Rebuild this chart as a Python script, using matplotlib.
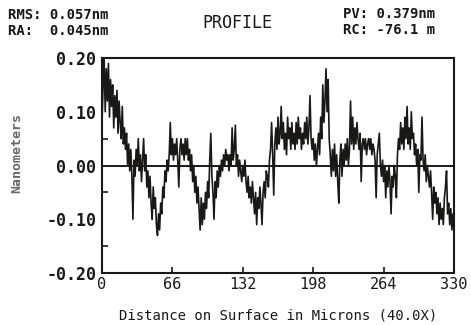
import numpy as np
import matplotlib as mpl
mpl.use('Agg')
import matplotlib.pyplot as plt
from matplotlib.ticker import FixedLocator

# profile height (nm) read every 1 micron, 0..330
step_um = 1
height_nm = [
    0.08, 0.15, 0.20, 0.10, 0.18, 0.12, 0.19, 0.09, 0.16, 0.11,
    0.15, 0.07, 0.13, 0.09, 0.14, 0.06, 0.12, 0.08, 0.05, 0.11,
    0.04, 0.07, 0.03, 0.06, 0.00, 0.04, -0.01, 0.03, -0.02, -0.10,
    0.01, -0.02, 0.03, 0.00, 0.05, -0.01, 0.02, -0.03, 0.01, 0.05,
    -0.01, 0.02, -0.04, -0.01, -0.06, -0.02, -0.07, -0.10, -0.04, -0.08,
    -0.06, -0.11, -0.13, -0.09, -0.12, -0.07, -0.09, -0.04, -0.06, -0.01,
    -0.03, 0.01, -0.01, 0.02, 0.08, 0.02, 0.05, 0.01, 0.04, 0.02,
    0.05, 0.01, -0.04, 0.03, 0.05, 0.02, 0.04, 0.01, 0.05, 0.02,
    0.05, 0.01, 0.03, -0.01, 0.02, -0.03, 0.00, -0.05, -0.02, -0.07,
    -0.04, -0.08, -0.12, -0.06, -0.11, -0.07, -0.10, -0.05, -0.08, -0.03,
    -0.06, 0.01, 0.06, -0.02, -0.05, -0.10, -0.03, -0.06, -0.01, -0.04,
    0.00, -0.02, 0.01, -0.01, 0.02, 0.00, 0.03, 0.01, 0.02, -0.01,
    0.02, 0.00, 0.07, 0.01, 0.03, 0.075, 0.00, 0.02, -0.02, 0.01,
    -0.01, -0.03, 0.00, -0.02, 0.01, -0.03, -0.05, -0.02, -0.06, -0.04,
    -0.07, -0.03, -0.06, -0.09, -0.05, -0.11, -0.06, -0.08, -0.04, -0.07,
    -0.11, -0.05, -0.03, -0.06, -0.01, -0.02, -0.04, 0.01, 0.03, 0.08,
    0.02, -0.055, 0.04, 0.07, 0.03, 0.09, 0.04, 0.06, 0.11, 0.05,
    0.08, 0.03, 0.06, 0.02, 0.09, 0.05, 0.07, 0.03, 0.08, 0.04,
    0.06, 0.03, 0.08, 0.04, 0.09, 0.05, 0.07, 0.03, 0.06, 0.04,
    0.08, 0.05, 0.09, 0.04, 0.07, 0.13, 0.05, 0.03, 0.05, 0.01,
    0.04, 0.00, 0.03, 0.06, 0.02, 0.09, 0.05, 0.15, 0.08, 0.12,
    0.18, 0.10, 0.16, 0.05, 0.02, -0.02, 0.03, -0.01, 0.04, -0.02,
    0.02, -0.03, -0.07, 0.01, 0.04, -0.02, 0.03, 0.00, 0.04, 0.01,
    0.05, 0.00, 0.03, 0.12, 0.04, 0.09, 0.03, 0.07, 0.04, 0.08,
    0.05, 0.03, 0.06, -0.03, 0.04, 0.05, 0.03, 0.05, 0.02, 0.04,
    0.05, 0.03, 0.05, 0.02, 0.04, 0.03, 0.01, -0.06, 0.02, 0.04,
    0.06, 0.00, -0.02, 0.01, -0.03, 0.00, -0.06, -0.01, -0.04, 0.00,
    -0.03, -0.09, -0.02, -0.04, 0.00, -0.02, -0.06, 0.02, 0.05, 0.03,
    0.08, 0.04, 0.07, 0.03, 0.09, 0.05, 0.11, 0.04, 0.07, 0.03,
    0.10, 0.05, 0.06, 0.02, 0.04, 0.00, 0.03, -0.05, 0.02, 0.01,
    0.09, 0.01, -0.01, 0.02, -0.03, 0.00, -0.02, -0.04, -0.01, -0.05,
    -0.10, -0.04, -0.07, -0.05, -0.09, -0.06, -0.11, -0.07, -0.10, -0.08,
    -0.11, -0.06, -0.04, -0.01, -0.09, -0.07, -0.11, -0.08, -0.12, -0.09,
    -0.12,
]
dist_um = np.arange(len(height_nm)) * step_um

x_ticks = [0, 66, 132, 198, 264, 330]
x_labels = ['0', '66', '132', '198', '264', '330']
y_ticks = [-0.20, -0.10, 0.00, 0.10, 0.20]
y_labels = ['-0.20', '-0.10', '0.00', '0.10', '0.20']

ink = '#1a1717'
mono = 'DejaVu Sans Mono'

fig = plt.figure(figsize=(4.71, 3.25), dpi=100)
ax = fig.add_axes([0.2166, 0.16, 0.7473, 0.6615])

ax.plot(dist_um, height_nm, color=ink, lw=1.2)
ax.axhline(0, color=ink, lw=1.4)

ax.set_xlim(0, 330)
ax.set_ylim(-0.2, 0.2)
ax.xaxis.set_major_locator(FixedLocator(x_ticks))
ax.set_xticklabels(x_labels, family=mono, fontsize=11)
ax.yaxis.set_major_locator(FixedLocator(y_ticks))
ax.set_yticklabels(y_labels, family=mono, fontsize=12, fontweight='bold')
ax.yaxis.set_minor_locator(FixedLocator([-0.15, -0.05, 0.05, 0.15]))
ax.tick_params(axis='y', which='major', length=0, pad=4, colors=ink)
ax.tick_params(axis='y', which='minor', direction='in', length=4, width=1.2, color=ink)
ax.tick_params(axis='x', which='major', direction='in', length=4, width=1.2, pad=3,
               colors=ink)
for s in ax.spines.values():
    s.set_linewidth(1.5)
    s.set_color(ink)

ax.set_ylabel('Nanometers', family=mono, fontsize=9.5, fontweight='bold',
              color='#666666')
ax.yaxis.set_label_coords(-0.225, 0.56)
ax.set_xlabel('Distance on Surface in Microns (40.0X)', family=mono, fontsize=10,
              color=ink, labelpad=12)

fig.text(0.017, 0.955, 'RMS: 0.057nm', family=mono, fontsize=10, fontweight='bold',
         color=ink, va='center')
fig.text(0.017, 0.905, 'RA:  0.045nm', family=mono, fontsize=10, fontweight='bold',
         color=ink, va='center')
fig.text(0.503, 0.93, 'PROFILE', family=mono, fontsize=12, color=ink,
         ha='center', va='center')
fig.text(0.728, 0.957, 'PV: 0.379nm', family=mono, fontsize=10, fontweight='bold',
         color=ink, va='center')
fig.text(0.728, 0.907, 'RC: -76.1 m', family=mono, fontsize=10, fontweight='bold',
         color=ink, va='center')

fig.savefig('out.png', dpi=100)
